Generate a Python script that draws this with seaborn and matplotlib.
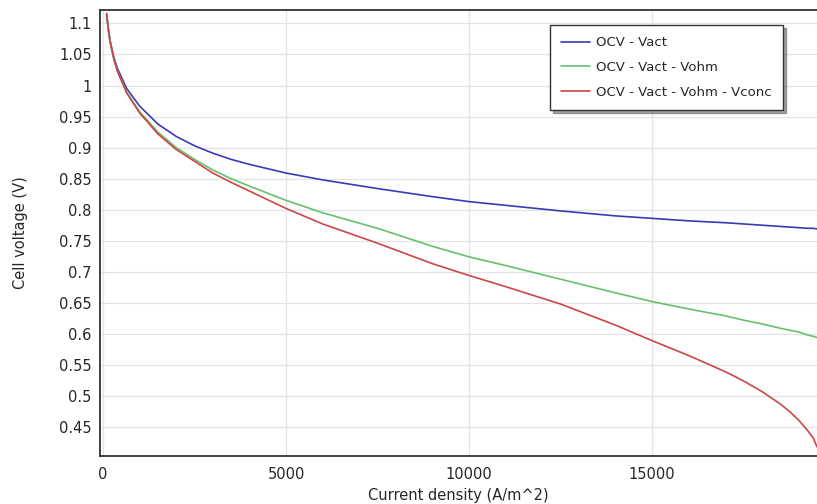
import matplotlib
matplotlib.use("Agg")
import matplotlib.pyplot as plt
import seaborn as sns
import pandas as pd
from matplotlib.ticker import FixedLocator, FuncFormatter

# ---- data ----
current_density = [100, 150, 200, 300, 400, 650, 1000, 1500, 2000, 2500, 3000, 3500,
                   4000, 5000, 6000, 7500, 9000, 10000, 11000, 12500, 14000, 15000,
                   16000, 17000, 17500, 18000, 18500, 18750, 19000, 19250, 19400, 19500]
v_act = [1.116, 1.090, 1.071, 1.045, 1.027, 0.995, 0.967, 0.938, 0.918, 0.903, 0.891, 0.881,
         0.873, 0.859, 0.848, 0.834, 0.821, 0.813, 0.807, 0.798, 0.790, 0.786,
         0.782, 0.779, 0.777, 0.775, 0.773, 0.772, 0.771, 0.770, 0.770, 0.769]
v_ohm = [1.115, 1.089, 1.069, 1.042, 1.023, 0.989, 0.958, 0.925, 0.900, 0.881, 0.864, 0.850,
         0.838, 0.815, 0.795, 0.770, 0.741, 0.724, 0.710, 0.688, 0.666, 0.652,
         0.640, 0.629, 0.622, 0.616, 0.609, 0.606, 0.603, 0.598, 0.596, 0.594]
v_conc = [1.115, 1.089, 1.069, 1.042, 1.022, 0.988, 0.956, 0.922, 0.897, 0.878, 0.859, 0.844,
          0.830, 0.802, 0.777, 0.746, 0.713, 0.694, 0.676, 0.648, 0.614, 0.589,
          0.565, 0.539, 0.524, 0.507, 0.487, 0.475, 0.461, 0.444, 0.432, 0.418]
series_labels = ["OCV - Vact", "OCV - Vact - Vohm", "OCV - Vact - Vohm - Vconc"]
x_ticks = [0, 5000, 10000, 15000]
y_ticks = [0.45, 0.5, 0.55, 0.6, 0.65, 0.7, 0.75, 0.8, 0.85, 0.9, 0.95, 1.0, 1.05, 1.1]

colors = ["#3a3ab8", "#66c06e", "#cc4646"]
text_color = "#262626"

sns.set_theme(style="whitegrid")
plt.rcParams["font.family"] = ["DejaVu Sans"]

fig = plt.figure(figsize=(8.17, 5.04), dpi=100)
ax = fig.add_axes([100 / 817, 1 - 456 / 504, 717 / 817, 446 / 504])
ax.set_facecolor("white")

for vals, lab, col in zip([v_act, v_ohm, v_conc], series_labels, colors):
    df = pd.DataFrame({"x": current_density, "y": vals})
    sns.lineplot(data=df, x="x", y="y", ax=ax, color=col, linewidth=1.2, label=lab)

ax.set_xlim(-80, 19500)
ax.set_ylim(0.4033, 1.1216)
ax.xaxis.set_major_locator(FixedLocator(x_ticks))
ax.yaxis.set_major_locator(FixedLocator(y_ticks))
ax.yaxis.set_major_formatter(FuncFormatter(lambda v, p: f"{v:.2f}".rstrip("0").rstrip(".")))
ax.xaxis.set_major_formatter(FuncFormatter(lambda v, p: f"{v:.0f}"))

ax.grid(True, color="#e3e3e3", linewidth=0.9)
for side in ["left", "bottom", "top"]:
    ax.spines[side].set_visible(True)
    ax.spines[side].set_color("#333333")
    ax.spines[side].set_linewidth(1.3)
ax.spines["right"].set_visible(False)

ax.tick_params(axis="both", direction="in", length=5, width=1, color="#333333",
               labelsize=10.5, labelcolor=text_color, pad=6)
ax.tick_params(axis="x", pad=8)

ax.set_xlabel("Current density (A/m^2)", fontsize=10.5, color=text_color, labelpad=4)
ax.set_ylabel("Cell voltage (V)", fontsize=10.5, color=text_color, labelpad=22)

leg = ax.legend(loc="upper right", bbox_to_anchor=((783 - 100) / 717, (456 - 25) / 446),
                borderaxespad=0, frameon=True, fancybox=False, shadow=True,
                fontsize=9.5, handlelength=2.2, handletextpad=0.45, labelspacing=0.9,
                borderpad=0.85)
leg.get_frame().set_edgecolor("#333333")
leg.get_frame().set_linewidth(1.0)
for t in leg.get_texts():
    t.set_color(text_color)

fig.savefig("out.png", dpi=100, facecolor="white")
